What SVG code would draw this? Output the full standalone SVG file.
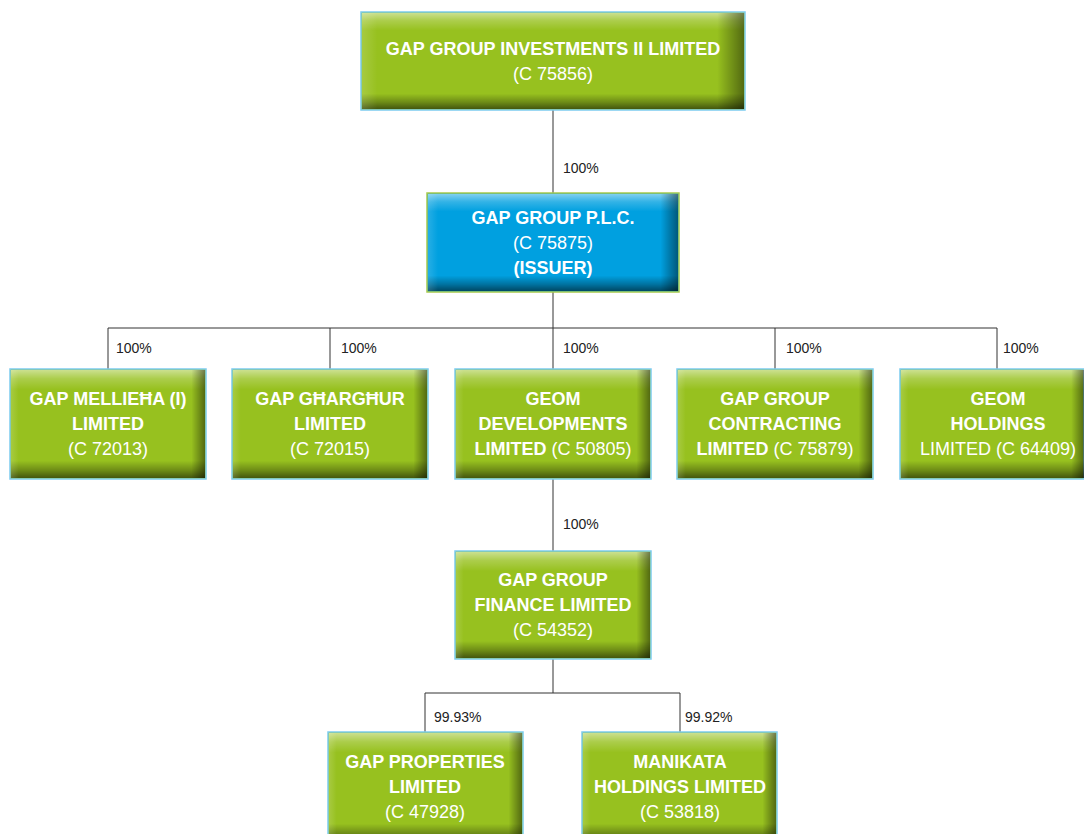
<svg xmlns="http://www.w3.org/2000/svg" width="1084" height="834" viewBox="0 0 1084 834">
<style>
.g{fill:#97C11F;stroke:#7CCBEF;stroke-width:1.5}
.b{fill:#00A0E0;stroke:#A9C94C;stroke-width:1.5}
.v{fill:url(#vg)}
.h{fill:url(#hg)}
.t{font-family:"Liberation Sans",Arial,sans-serif;font-size:18px;fill:#fff;text-anchor:middle}
.bd{font-weight:bold}
.ln{stroke:#333;stroke-width:1;fill:none}
.lb{font-family:"Liberation Sans",Arial,sans-serif;font-size:14px;fill:#222}
</style>
<defs>
<linearGradient id="vg" x1="0" y1="0" x2="0" y2="1">
<stop offset="0" stop-color="#fff" stop-opacity="0.5"/>
<stop offset="0.08" stop-color="#fff" stop-opacity="0.2"/>
<stop offset="0.18" stop-color="#fff" stop-opacity="0"/>
<stop offset="0.84" stop-color="#000" stop-opacity="0"/>
<stop offset="0.93" stop-color="#000" stop-opacity="0.28"/>
<stop offset="1" stop-color="#000" stop-opacity="0.55"/>
</linearGradient>
<linearGradient id="hg" x1="0" y1="0" x2="1" y2="0">
<stop offset="0" stop-color="#fff" stop-opacity="0.15"/>
<stop offset="0.04" stop-color="#fff" stop-opacity="0"/>
<stop offset="0.93" stop-color="#000" stop-opacity="0"/>
<stop offset="1" stop-color="#000" stop-opacity="0.45"/>
</linearGradient>
</defs>
<g id="connectors">
<path class="ln" d="M553 110V193M553 292V328M108 328H997M108 328V369M330 328V369M553 328V369M775 328V369M997 328V369M553 479V551M553 659V693M425 693H680M425 693V732M680 693V732"/>
<text class="lb" x="563" y="173">100%</text>
<text class="lb" x="116" y="353">100%</text>
<text class="lb" x="341" y="353">100%</text>
<text class="lb" x="563" y="353">100%</text>
<text class="lb" x="786" y="353">100%</text>
<text class="lb" x="1003" y="353">100%</text>
<text class="lb" x="563" y="529">100%</text>
<text class="lb" x="434" y="722">99.93%</text>
<text class="lb" x="685" y="722">99.92%</text>
</g>
<g id="n-top">
<rect class="g" x="361" y="12" width="384" height="98"/>
<rect class="v" x="362" y="13" width="382" height="96"/><rect class="h" x="362" y="13" width="382" height="96"/>
<text class="t" x="553" y="55"><tspan class="bd">GAP GROUP INVESTMENTS II LIMITED</tspan><tspan x="553" dy="25">(C 75856)</tspan></text>
</g>
<g id="n-plc">
<rect class="b" x="427" y="193" width="252" height="99"/>
<rect class="v" x="428" y="194" width="250" height="97"/><rect class="h" x="428" y="194" width="250" height="97"/>
<text class="t" x="553" y="224"><tspan class="bd">GAP GROUP P.L.C.</tspan><tspan x="553" dy="25">(C 75875)</tspan><tspan x="553" dy="25" class="bd">(ISSUER)</tspan></text>
</g>
<g id="n-mellieha">
<rect class="g" x="10" y="369" width="196" height="110"/>
<rect class="v" x="11" y="370" width="194" height="108"/><rect class="h" x="11" y="370" width="194" height="108"/>
<text class="t" x="108" y="405"><tspan class="bd">GAP MELLIEĦA (I)</tspan><tspan x="108" dy="25" class="bd">LIMITED</tspan><tspan x="108" dy="25">(C 72013)</tspan></text>
</g>
<g id="n-gharghur">
<rect class="g" x="232" y="369" width="196" height="110"/>
<rect class="v" x="233" y="370" width="194" height="108"/><rect class="h" x="233" y="370" width="194" height="108"/>
<text class="t" x="330" y="405"><tspan class="bd">GAP GĦARGĦUR</tspan><tspan x="330" dy="25" class="bd">LIMITED</tspan><tspan x="330" dy="25">(C 72015)</tspan></text>
</g>
<g id="n-geomdev">
<rect class="g" x="455" y="369" width="196" height="110"/>
<rect class="v" x="456" y="370" width="194" height="108"/><rect class="h" x="456" y="370" width="194" height="108"/>
<text class="t" x="553" y="405"><tspan class="bd">GEOM</tspan><tspan x="553" dy="25" class="bd">DEVELOPMENTS</tspan><tspan x="553" dy="25"><tspan class="bd">LIMITED</tspan> (C 50805)</tspan></text>
</g>
<g id="n-contracting">
<rect class="g" x="677" y="369" width="196" height="110"/>
<rect class="v" x="678" y="370" width="194" height="108"/><rect class="h" x="678" y="370" width="194" height="108"/>
<text class="t" x="775" y="405"><tspan class="bd">GAP GROUP</tspan><tspan x="775" dy="25" class="bd">CONTRACTING</tspan><tspan x="775" dy="25"><tspan class="bd">LIMITED</tspan> (C 75879)</tspan></text>
</g>
<g id="n-geomhold">
<rect class="g" x="900" y="369" width="184" height="110"/>
<rect class="v" x="901" y="370" width="183" height="108"/><rect class="h" x="901" y="370" width="183" height="108"/>
<text class="t" x="998" y="405"><tspan class="bd">GEOM</tspan><tspan x="998" dy="25" class="bd">HOLDINGS</tspan><tspan x="998" dy="25">LIMITED (C 64409)</tspan></text>
</g>
<g id="n-finance">
<rect class="g" x="455" y="551" width="196" height="108"/>
<rect class="v" x="456" y="552" width="194" height="106"/><rect class="h" x="456" y="552" width="194" height="106"/>
<text class="t" x="553" y="586"><tspan class="bd">GAP GROUP</tspan><tspan x="553" dy="25" class="bd">FINANCE LIMITED</tspan><tspan x="553" dy="25">(C 54352)</tspan></text>
</g>
<g id="n-properties">
<rect class="g" x="328" y="732" width="195" height="110"/>
<rect class="v" x="329" y="733" width="193" height="108"/><rect class="h" x="329" y="733" width="193" height="108"/>
<text class="t" x="425" y="768"><tspan class="bd">GAP PROPERTIES</tspan><tspan x="425" dy="25" class="bd">LIMITED</tspan><tspan x="425" dy="25">(C 47928)</tspan></text>
</g>
<g id="n-manikata">
<rect class="g" x="582" y="732" width="195" height="110"/>
<rect class="v" x="583" y="733" width="193" height="108"/><rect class="h" x="583" y="733" width="193" height="108"/>
<text class="t" x="680" y="768"><tspan class="bd">MANIKATA</tspan><tspan x="680" dy="25" class="bd">HOLDINGS LIMITED</tspan><tspan x="680" dy="25">(C 53818)</tspan></text>
</g>
</svg>
